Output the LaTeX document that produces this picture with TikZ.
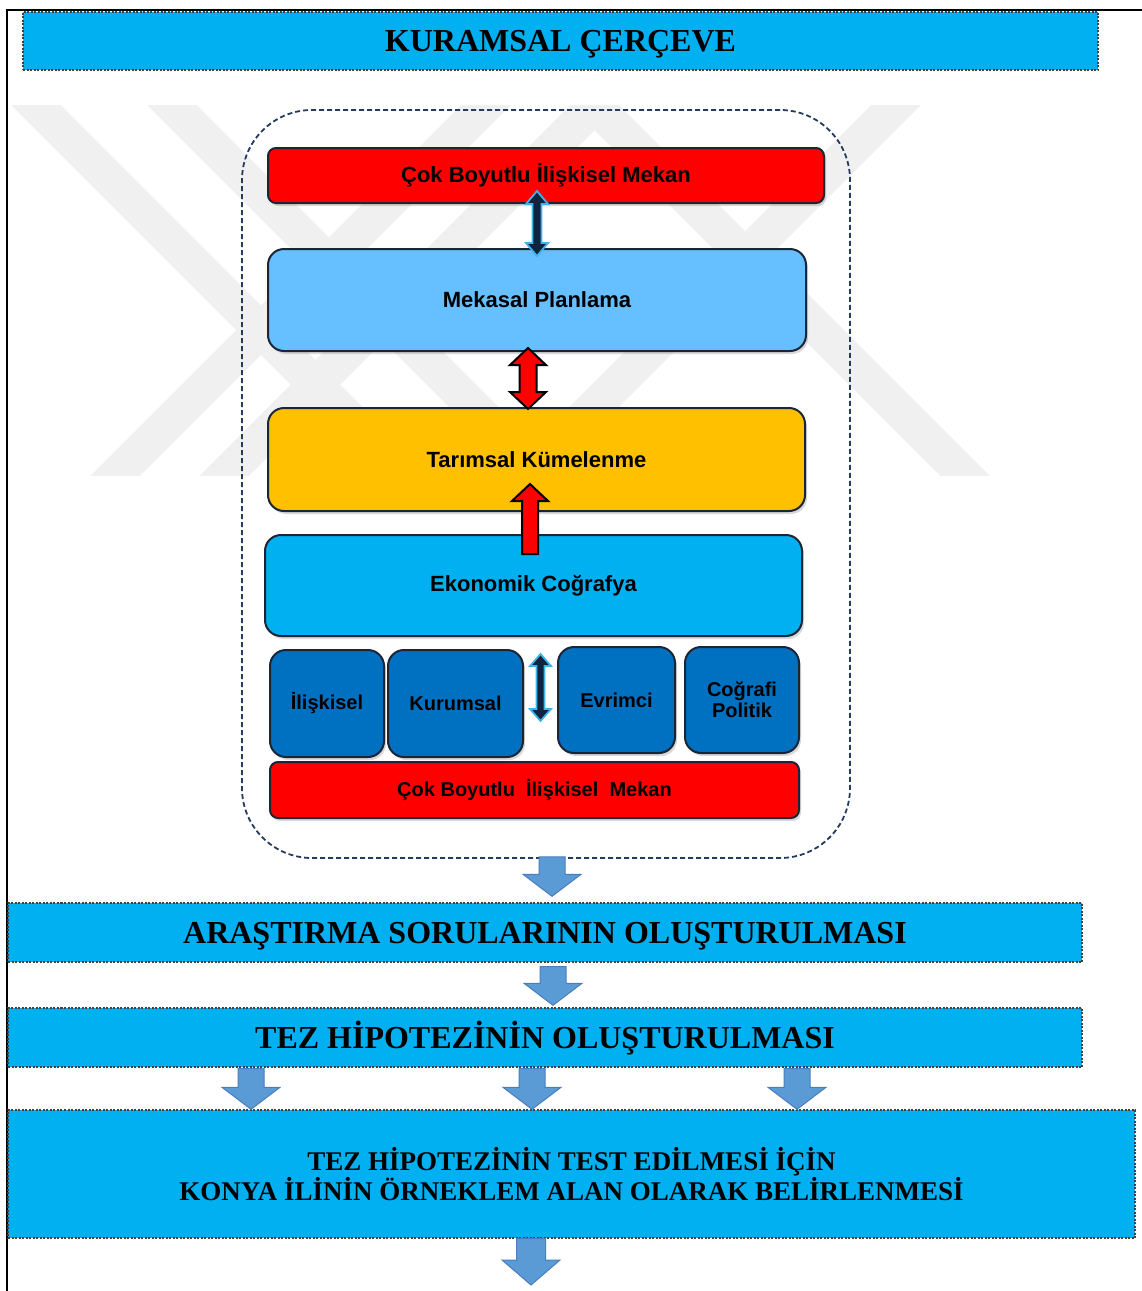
\documentclass[tikz,border=0pt]{standalone}
\usepackage{fontspec}
\setmainfont{Liberation Serif}
\newfontfamily\boxsans{Liberation Sans}
\usetikzlibrary{arrows.meta,calc,positioning,shadows}

\definecolor{barcyan}{HTML}{00B0F0}
\definecolor{barred}{HTML}{FF0000}
\definecolor{skyfill}{HTML}{66BFFF}
\definecolor{goldfill}{HTML}{FFC000}
\definecolor{deepfill}{HTML}{0070C0}
\definecolor{boxedge}{HTML}{1C2535}
\definecolor{frameink}{HTML}{243B5E}
\definecolor{arrowblue}{HTML}{5B9BD5}
\definecolor{arrowedge}{HTML}{4A7EBB}
\definecolor{navyink}{HTML}{0F243E}
\definecolor{navyglow}{HTML}{3FB4EA}
\definecolor{wmgray}{HTML}{F0F0F0}

\tikzset
{
    banner/.style    = {rectangle, fill=barcyan, draw=black!75, line width=1.4pt, dash pattern=on 2pt off 1.5pt, align=center, inner sep=0pt, font=\bfseries\fontsize{32}{36}\selectfont},
    bannerone/.style = {banner, text height=21pt, text depth=0pt},
    container/.style = {rectangle, rounded corners=70pt, draw=frameink, line width=1.8pt, dash pattern=on 5pt off 3pt},
    layer/.style     = {rectangle, rounded corners=16pt, draw=boxedge, line width=2pt, align=center, inner sep=0pt, font=\boxsans\bfseries\fontsize{22}{24}\selectfont, drop shadow={opacity=0.3, shadow xshift=2pt, shadow yshift=-3pt}},
    redbar/.style    = {layer, rounded corners=8pt, fill=barred},
    smallbox/.style  = {layer, fill=deepfill, font=\boxsans\bfseries\fontsize{20}{21}\selectfont},
    wmark/.style     = {draw=wmgray, line width=35pt},
    bluearrow/.style = {fill=arrowblue, draw=arrowedge, line width=1pt},
    navyarrow/.style = {fill=navyink, draw=navyglow, line width=1.8pt},
    redarrow/.style  = {fill=barred, draw=black, line width=2pt}
}

% block arrow: style, tail, tip, shaft half width, head half width, head length
\newcommand{\blockarrow}[6]{%
  \coordinate (ba-t) at (#2);
  \coordinate (ba-p) at (#3);
  \coordinate (ba-b) at ($(ba-p)!#6!(ba-t)$);
  \draw[#1] ($(ba-t)!#4!90:(ba-p)$) -- ($(ba-b)!#4!90:(ba-p)$) -- ($(ba-b)!#5!90:(ba-p)$) -- (ba-p)
     -- ($(ba-b)!#5!-90:(ba-p)$) -- ($(ba-b)!#4!-90:(ba-p)$) -- ($(ba-t)!#4!-90:(ba-p)$) -- cycle;}

% two headed arrow: style, tip one, tip two, shaft half width, head half width, head length
\newcommand{\twinarrow}[6]{%
  \coordinate (ta-a) at (#2);
  \coordinate (ta-b) at (#3);
  \coordinate (ta-c) at ($(ta-a)!#6!(ta-b)$);
  \coordinate (ta-d) at ($(ta-b)!#6!(ta-a)$);
  \draw[#1] (ta-a) -- ($(ta-c)!#5!90:(ta-b)$) -- ($(ta-c)!#4!90:(ta-b)$) -- ($(ta-d)!#4!-90:(ta-a)$) -- ($(ta-d)!#5!-90:(ta-a)$)
     -- (ta-b) -- ($(ta-d)!#5!90:(ta-a)$) -- ($(ta-d)!#4!90:(ta-a)$) -- ($(ta-c)!#4!-90:(ta-b)$) -- ($(ta-c)!#5!-90:(ta-b)$) -- cycle;}

\begin{document}
\begin{tikzpicture}[x=1pt, y=-1pt]
\useasboundingbox (0,0) rectangle (1142,1291);

% watermark
\begin{scope}
\clip (9,105) rectangle (1000,475);
\foreach \c in {-69,67,489} \draw[wmark] ({75+\c},75) -- ({505+\c},505);
\foreach \c in {591,700,1001} \draw[wmark] ({\c-75},75) -- ({\c-505},505);
\end{scope}

% page frame
\draw[line width=2pt] (7,1291) -- (7,10) -- (1142,10);

\node (kuramsal)[bannerone, minimum width=1075, minimum height=58] at (560.5,41) {KURAMSAL ÇERÇEVE};

\node (frame)[container, minimum width=608, minimum height=748] at (546,484) {};

\node (cbtop)[redbar, minimum width=556, minimum height=55]      at (546,175.5)   {Çok Boyutlu İlişkisel Mekan};
\node (mekasal)[layer, fill=skyfill, minimum width=538, minimum height=102]  at (537,300)     {Mekasal Planlama};
\node (tarimsal)[layer, fill=goldfill, minimum width=537, minimum height=103] at (536.5,459.5) {Tarımsal Kümelenme};
\node (ekonomik)[layer, fill=barcyan, minimum width=537, minimum height=101]  at (533.5,585.5) {Ekonomik Coğrafya};

\node (iliskisel)[smallbox, minimum width=114, minimum height=107] at (327,703.5)   {İlişkisel};
\node (kurumsal)[smallbox, minimum width=135, minimum height=107]  at (455.5,703.5) {Kurumsal};
\node (evrimci)[smallbox, minimum width=117, minimum height=106]   at (616.5,700)   {Evrimci};
\node (cografi)[smallbox, minimum width=114, minimum height=106]   at (742,700)     {Coğrafi\\Politik};

\node (cbbottom)[redbar, font=\boxsans\bfseries\fontsize{20}{22}\selectfont, minimum width=529, minimum height=56] at (534.5,790) {Çok Boyutlu\ \ İlişkisel\ \ Mekan};

\node (arastirma)[bannerone, minimum width=1074, minimum height=59] at (545,932.5)  {ARAŞTIRMA SORULARININ OLUŞTURULMASI};
\node (hipotez)[bannerone, minimum width=1074, minimum height=59]   at (545,1037.5) {TEZ HİPOTEZİNİN OLUŞTURULMASI};
\node (konya)[banner, font=\bfseries\fontsize{27}{30}\selectfont, minimum width=1127, minimum height=128] at (571.5,1174)
    {TEZ HİPOTEZİNİN TEST EDİLMESİ İÇİN\\KONYA İLİNİN ÖRNEKLEM ALAN OLARAK BELİRLENMESİ};

\coordinate (gap) at ($(kurumsal.north east)!0.5!(evrimci.north west)$);
\coordinate (tail) at (531,1285);

% arrows inside the frame
\twinarrow{navyarrow}{$(mekasal.north)+(0,-57)$}{$(mekasal.north)+(0,8)$}{4.5pt}{11pt}{13pt}
\twinarrow{redarrow}{$(mekasal.south)+(-9,-4)$}{$(tarimsal.north)+(-8.5,2)$}{8.5pt}{18pt}{17pt}
\blockarrow{redarrow}{$(ekonomik.north)+(-3.5,20)$}{$(tarimsal.south)+(-6.5,-28)$}{8pt}{18pt}{17pt}
\twinarrow{navyarrow}{$(gap)+(0,6.5)$}{$(gap)+(0,73.5)$}{4pt}{10.5pt}{12pt}

% arrows between the steps
\blockarrow{bluearrow}{$(frame.south)+(6,-2)$}{$(arastirma.north)+(7,-6)$}{13pt}{29pt}{22pt}
\blockarrow{bluearrow}{$(arastirma.south)+(8,4)$}{$(hipotez.north)+(8,-2)$}{13pt}{29pt}{22pt}
\foreach \dx in {-294,-13,252}
    {\blockarrow{bluearrow}{$(hipotez.south)+(\dx,1)$}{ba-t |- konya.north}{13pt}{29pt}{22pt}}
\blockarrow{bluearrow}{$(konya.south)+(-40.5,0)$}{tail}{14.5pt}{29pt}{25pt}

\end{tikzpicture}
\end{document}
